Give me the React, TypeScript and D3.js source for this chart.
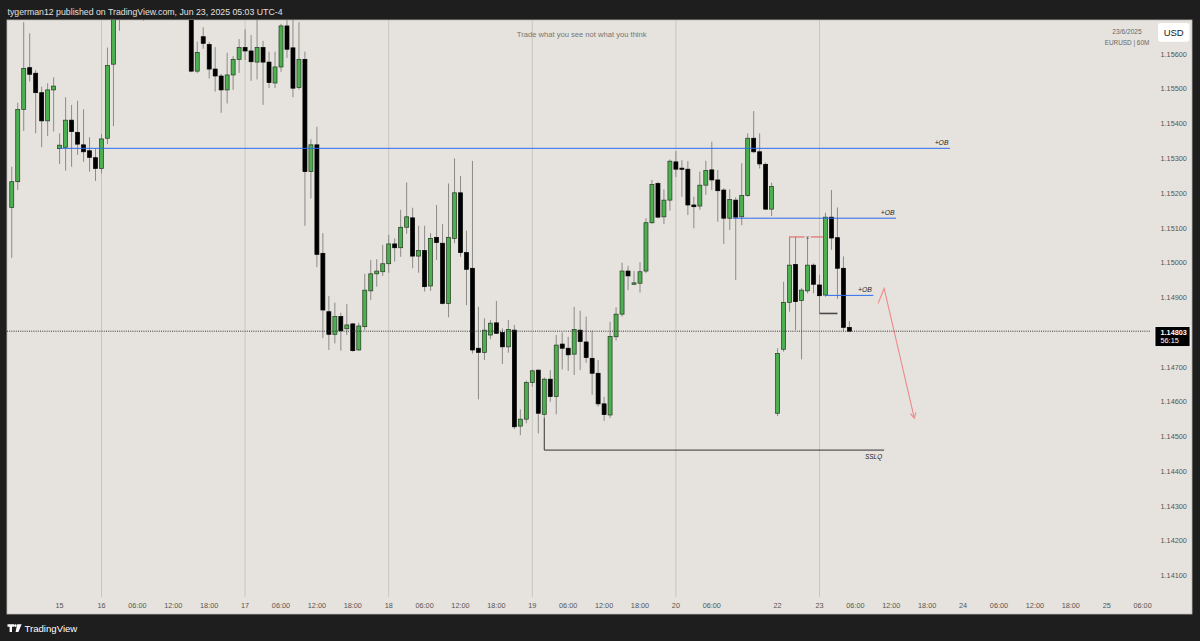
import React from "react";
import * as d3 from "d3";

// ---------- DATA ----------
const startTime = "2025-06-13T09:00"; // first visible hourly bar (UTC-4)

const opens = [
  1.15159, 1.15233, 1.15441, 1.15561, 1.15545, 1.15489, 1.15408, 1.15497, 1.15328, 1.15332,
  1.15410, 1.15375, 1.15339, 1.15322, 1.15302, 1.15271, 1.15358, 1.15571, 1.15745, 1.15760,
  1.15790, 1.15770, 1.15740, 1.15760, 1.15810, 1.15850, 1.15820, 1.15840, 1.15800, 1.15780,
  1.15770, 1.15551, 1.15650, 1.15628, 1.15557, 1.15537, 1.15497, 1.15540, 1.15585, 1.15619,
  1.15609, 1.15577, 1.15619, 1.15577, 1.15517, 1.15563, 1.15681, 1.15618, 1.15504, 1.15585,
  1.15262, 1.15339, 1.15027, 1.14859, 1.14794, 1.14845, 1.14810, 1.14824, 1.14749, 1.14816,
  1.14919, 1.14968, 1.14974, 1.14997, 1.15054, 1.15043, 1.15102, 1.15129, 1.15019, 1.15035,
  1.14933, 1.15073, 1.15056, 1.14883, 1.15070, 1.15201, 1.15029, 1.14984, 1.14754, 1.14742,
  1.14792, 1.14827, 1.14799, 1.14758, 1.14806, 1.14530, 1.14550, 1.14655, 1.14691, 1.14564,
  1.14665, 1.14615, 1.14766, 1.14754, 1.14737, 1.14806, 1.14772, 1.14725, 1.14682, 1.14594,
  1.14562, 1.14787, 1.14852, 1.14976, 1.14938, 1.14941, 1.14976, 1.15115, 1.15228, 1.15132,
  1.15180, 1.15290, 1.15272, 1.15269, 1.15166, 1.15163, 1.15223, 1.15267, 1.15238, 1.15209,
  1.15128, 1.15180, 1.15132, 1.15193, 1.15358, 1.15319, 1.15283, 1.15154, 1.14567, 1.14751,
  1.14886, 1.14995, 1.14891, 1.14919, 1.14993, 1.14936, 1.14907, 1.15131, 1.15072, 1.14984,
  1.14814,
];
const highs = [
  1.15276, 1.15460, 1.15692, 1.15660, 1.15554, 1.15506, 1.15516, 1.15533, 1.15372, 1.15476,
  1.15454, 1.15466, 1.15441, 1.15361, 1.15329, 1.15370, 1.15619, 1.15780, 1.15810, 1.15820,
  1.15830, 1.15800, 1.15790, 1.15840, 1.15880, 1.15890, 1.15870, 1.15860, 1.15830, 1.15810,
  1.15790, 1.15636, 1.15677, 1.15635, 1.15620, 1.15543, 1.15604, 1.15594, 1.15643, 1.15671,
  1.15655, 1.15710, 1.15638, 1.15607, 1.15607, 1.15687, 1.15720, 1.15715, 1.15692, 1.15607,
  1.15355, 1.15391, 1.15085, 1.14904, 1.14885, 1.14856, 1.14881, 1.14826, 1.14827, 1.14968,
  1.15008, 1.15010, 1.15051, 1.15080, 1.15070, 1.15152, 1.15231, 1.15158, 1.15106, 1.15106,
  1.15085, 1.15166, 1.15111, 1.15228, 1.15300, 1.15249, 1.15092, 1.15293, 1.14873, 1.14840,
  1.14835, 1.14890, 1.14811, 1.14835, 1.14821, 1.14578, 1.14661, 1.14693, 1.14693, 1.14670,
  1.14691, 1.14792, 1.14799, 1.14787, 1.14873, 1.14862, 1.14845, 1.14804, 1.14720, 1.14614,
  1.14830, 1.14872, 1.15000, 1.14991, 1.14976, 1.15001, 1.15128, 1.15238, 1.15233, 1.15211,
  1.15297, 1.15321, 1.15295, 1.15292, 1.15190, 1.15262, 1.15293, 1.15348, 1.15267, 1.15214,
  1.15211, 1.15188, 1.15286, 1.15372, 1.15436, 1.15372, 1.15288, 1.15230, 1.14754, 1.14945,
  1.15075, 1.15075, 1.14927, 1.15073, 1.14998, 1.14965, 1.15144, 1.15209, 1.15159, 1.15018,
  1.14832,
];
const lows = [
  1.15014, 1.15209, 1.15379, 1.15521, 1.15372, 1.15332, 1.15364, 1.15377, 1.15284, 1.15265,
  1.15276, 1.15310, 1.15290, 1.15262, 1.15235, 1.15257, 1.15341, 1.15393, 1.15667, 1.15740,
  1.15730, 1.15715, 1.15696, 1.15745, 1.15790, 1.15800, 1.15790, 1.15770, 1.15750, 1.15740,
  1.15548, 1.15545, 1.15615, 1.15530, 1.15492, 1.15431, 1.15458, 1.15497, 1.15546, 1.15583,
  1.15523, 1.15527, 1.15454, 1.15502, 1.15502, 1.15549, 1.15589, 1.15476, 1.15498, 1.15106,
  1.15185, 1.14987, 1.14783, 1.14749, 1.14768, 1.14747, 1.14792, 1.14744, 1.14747, 1.14806,
  1.14893, 1.14931, 1.14962, 1.14971, 1.15003, 1.15017, 1.15083, 1.14984, 1.14971, 1.14917,
  1.14919, 1.15008, 1.14880, 1.14843, 1.15056, 1.15017, 1.14878, 1.14739, 1.14607, 1.14720,
  1.14780, 1.14795, 1.14709, 1.14741, 1.14521, 1.14504, 1.14538, 1.14643, 1.14509, 1.14553,
  1.14600, 1.14564, 1.14693, 1.14689, 1.14677, 1.14691, 1.14712, 1.14620, 1.14586, 1.14545,
  1.14553, 1.14776, 1.14845, 1.14921, 1.14936, 1.14914, 1.14970, 1.15111, 1.15128, 1.15111,
  1.15150, 1.15246, 1.15190, 1.15137, 1.15099, 1.15152, 1.15195, 1.15209, 1.15118, 1.15054,
  1.15094, 1.14950, 1.15108, 1.15190, 1.15315, 1.15271, 1.15152, 1.15134, 1.14559, 1.14744,
  1.14859, 1.14806, 1.14722, 1.14912, 1.14912, 1.14854, 1.14902, 1.15037, 1.14896, 1.14804,
  1.14800,
];
const closes = [
  1.15233, 1.15441, 1.15559, 1.15542, 1.15489, 1.15408, 1.15497, 1.15508, 1.15338, 1.15410,
  1.15377, 1.15341, 1.15319, 1.15303, 1.15271, 1.15356, 1.15567, 1.15745, 1.15760, 1.15790,
  1.15770, 1.15740, 1.15760, 1.15810, 1.15850, 1.15820, 1.15840, 1.15800, 1.15780, 1.15770,
  1.15551, 1.15605, 1.15631, 1.15557, 1.15537, 1.15497, 1.15540, 1.15585, 1.15619, 1.15609,
  1.15578, 1.15619, 1.15577, 1.15518, 1.15563, 1.15681, 1.15614, 1.15502, 1.15585, 1.15262,
  1.15339, 1.15024, 1.14864, 1.14794, 1.14845, 1.14804, 1.14821, 1.14747, 1.14818, 1.14921,
  1.14968, 1.14976, 1.14997, 1.15054, 1.15043, 1.15102, 1.15132, 1.15019, 1.15035, 1.14931,
  1.15070, 1.15058, 1.14883, 1.15073, 1.15201, 1.15029, 1.14981, 1.14749, 1.14742, 1.14806,
  1.14826, 1.14797, 1.14758, 1.14808, 1.14528, 1.14550, 1.14655, 1.14689, 1.14567, 1.14665,
  1.14615, 1.14763, 1.14754, 1.14735, 1.14808, 1.14773, 1.14727, 1.14682, 1.14594, 1.14563,
  1.14788, 1.14852, 1.14976, 1.14962, 1.14942, 1.14974, 1.15115, 1.15225, 1.15131, 1.15180,
  1.15292, 1.15269, 1.15270, 1.15166, 1.15161, 1.15223, 1.15265, 1.15238, 1.15207, 1.15128,
  1.15182, 1.15131, 1.15193, 1.15358, 1.15319, 1.15284, 1.15154, 1.15219, 1.14739, 1.14886,
  1.14993, 1.14888, 1.14921, 1.14993, 1.14938, 1.14905, 1.15131, 1.15071, 1.14984, 1.14814,
  1.14803,
];

const priceTicks = [1.141, 1.142, 1.143, 1.144, 1.145, 1.146, 1.147, 1.149, 1.15, 1.151, 1.152, 1.153, 1.154, 1.155, 1.156];

const tickTimes = [
  "2025-06-15T17:00", "2025-06-16T00:00", "2025-06-16T06:00", "2025-06-16T12:00", "2025-06-16T18:00",
  "2025-06-17T00:00", "2025-06-17T06:00", "2025-06-17T12:00", "2025-06-17T18:00",
  "2025-06-18T00:00", "2025-06-18T06:00", "2025-06-18T12:00", "2025-06-18T18:00",
  "2025-06-19T00:00", "2025-06-19T06:00", "2025-06-19T12:00", "2025-06-19T18:00",
  "2025-06-20T00:00", "2025-06-20T06:00", "2025-06-22T17:00",
  "2025-06-23T00:00", "2025-06-23T06:00", "2025-06-23T12:00", "2025-06-23T18:00",
  "2025-06-24T00:00", "2025-06-24T06:00", "2025-06-24T12:00", "2025-06-24T18:00",
  "2025-06-25T00:00", "2025-06-25T06:00",
];
const tickLabels = [
  "15", "16", "06:00", "12:00", "18:00", "17", "06:00", "12:00", "18:00",
  "18", "06:00", "12:00", "18:00", "19", "06:00", "12:00", "18:00",
  "20", "06:00", "22", "23", "06:00", "12:00", "18:00", "24", "06:00", "12:00", "18:00", "25", "06:00",
];
const dayLineTimes = ["2025-06-16T00:00", "2025-06-17T00:00", "2025-06-18T00:00", "2025-06-19T00:00", "2025-06-20T00:00", "2025-06-23T00:00"];

// Drawings (price levels and anchor times)
const obLevels = [1.15329, 1.15128, 1.14906];
const obStarts = ["2025-06-15T17:00", "2025-06-20T09:30", "2025-06-23T01:00"];
const obEnds = ["2025-06-23T21:48", "2025-06-23T12:48", "2025-06-23T09:00"];
const obLabel = "+OB";
const sslqLevel = 1.14461;
const sslqStart = "2025-06-19T02:00";
const sslqEnd = "2025-06-23T10:48";
const redLevel = 1.15074;
const redStart = "2025-06-22T19:00";
const redEnd = "2025-06-23T00:36";
const redMark = "2025-06-22T22:00";
const greyLevel = 1.14854;
const greyStart = "2025-06-23T00:00";
const greyEnd = "2025-06-23T03:00";
const arrowTimes = ["2025-06-23T09:48", "2025-06-23T10:48", "2025-06-23T15:51"];
const arrowPrices = [1.14883, 1.14926, 1.14553];
const lastPrice = 1.14803;
const countdown = "56:15";

// ---------- TIME HELPERS ----------
const H = 3600000;
const parseT = (s: string) => new Date(s + ":00Z").getTime();
const BASE = parseT("2025-06-13T08:00");
function isOpen(ms: number) {
  const d = new Date(ms);
  const day = d.getUTCDay();
  const h = d.getUTCHours();
  if (day === 6) return false;
  if (day === 5 && h >= 17) return false;
  if (day === 0 && h < 17) return false;
  return true;
}
function barIndex(s: string) {
  const hrs = (parseT(s) - BASE) / H;
  const whole = Math.floor(hrs);
  let idx = 0;
  for (let k = 0; k < whole; k++) if (isOpen(BASE + k * H)) idx++;
  return idx + (hrs - whole);
}

const FONT = "'Liberation Sans', Arial, sans-serif";

export default function App() {
  const x = d3.scaleLinear().domain([16, 136]).range([101.5, 819.5]);
  const y = d3.scaleLinear().domain([1.141, 1.156]).range([575.6, 54.1]);
  const first = barIndex(startTime);
  const candles = opens.map((o, j) => ({ i: first + j, o, h: highs[j], l: lows[j], c: closes[j] }));
  const fmt = d3.format(".5f");

  const plotL = 7, plotT = 20, plotR = 1192, plotB = 614;

  const ap = arrowTimes.map((t, k) => [x(barIndex(t)), y(arrowPrices[k])] as [number, number]);
  const end = ap[ap.length - 1];
  const prev = ap[ap.length - 2];
  const ang = Math.atan2(end[1] - prev[1], end[0] - prev[0]);
  const headLen = 6;
  const h1: [number, number] = [end[0] - headLen * Math.cos(ang - 0.5), end[1] - headLen * Math.sin(ang - 0.5)];
  const h2: [number, number] = [end[0] - headLen * Math.cos(ang + 0.5), end[1] - headLen * Math.sin(ang + 0.5)];
  const line = d3.line();

  const sx0 = x(barIndex(sslqStart));
  const sx1 = x(barIndex(sslqEnd));
  const sslqBarLow = lows[Math.round(barIndex(sslqStart) - first)];

  return (
    <svg width={1200} height={641} style={{ position: "fixed", left: 0, top: 0, display: "block" }} fontFamily={FONT}>
      <defs>
        <clipPath id="plotClip">
          <rect x={plotL} y={plotT} width={1150 - plotL} height={597 - plotT} />
        </clipPath>
      </defs>
      <rect x={0} y={0} width={1200} height={641} fill="#1e1e1e" />
      <rect x={plotL} y={plotT} width={plotR - plotL} height={plotB - plotT} fill="#e6e3de" stroke="#bdbab4" strokeWidth={0.8} />

      {/* header */}
      <text x={7.5} y={14.5} fill="#e0e0e0" fontSize={9.6} textLength={275} lengthAdjust="spacingAndGlyphs">
        tygerman12 published on TradingView.com, Jun 23, 2025 05:03 UTC-4
      </text>

      {/* day grid lines */}
      {dayLineTimes.map((t) => (
        <line key={t} x1={x(barIndex(t))} x2={x(barIndex(t))} y1={plotT} y2={597} stroke="#c9c6c1" strokeWidth={1} />
      ))}

      {/* watermark-ish text */}
      <text x={581.7} y={36.5} fill="#777572" fontSize={7.6} textAnchor="middle">Trade what you see not what you think</text>
      <text x={1127} y={34} fill="#666" fontSize={6.6} textAnchor="middle">23/6/2025</text>
      <text x={1127} y={44.5} fill="#666" fontSize={6.4} textAnchor="middle">EURUSD | 60M</text>

      {/* candles */}
      <g clipPath="url(#plotClip)">
        {candles.map((d) => {
          const cx = x(d.i);
          const up = d.c >= d.o;
          const top = y(Math.max(d.o, d.c));
          const bot = y(Math.min(d.o, d.c));
          return (
            <g key={d.i}>
              <line x1={cx} x2={cx} y1={y(d.h)} y2={y(d.l)} stroke="#8c8a87" strokeWidth={1} />
              <rect
                x={cx - 2}
                y={top}
                width={4}
                height={Math.max(1.2, bot - top)}
                fill={up ? "#4caf50" : "#000"}
                stroke={up ? "#24381f" : "#000"}
                strokeWidth={0.7}
              />
            </g>
          );
        })}

        {/* OB lines */}
        {obLevels.map((lv, k) => {
          const x0 = x(barIndex(obStarts[k]));
          const x1 = x(barIndex(obEnds[k]));
          return (
            <g key={k}>
              <line x1={x0} x2={x1} y1={y(lv)} y2={y(lv)} stroke="#2f6bf0" strokeWidth={1} />
              <text x={x1 - 1.5} y={y(lv) - 3.5} fontSize={6.8} fontStyle="italic" fill="#222" textAnchor="end">{obLabel}</text>
            </g>
          );
        })}

        {/* red level with x */}
        <line x1={x(barIndex(redStart))} x2={x(barIndex(redMark)) - 3} y1={y(redLevel)} y2={y(redLevel)} stroke="#e05a5a" strokeWidth={1} />
        <line x1={x(barIndex(redMark)) + 3} x2={x(barIndex(redEnd))} y1={y(redLevel)} y2={y(redLevel)} stroke="#e05a5a" strokeWidth={1} />
        <text x={x(barIndex(redMark))} y={y(redLevel) + 2} fontSize={6} fill="#444" textAnchor="middle">x</text>

        {/* grey level */}
        <line x1={x(barIndex(greyStart))} x2={x(barIndex(greyEnd))} y1={y(greyLevel)} y2={y(greyLevel)} stroke="#4a4a4a" strokeWidth={1.6} />

        {/* SSLQ */}
        <path d={`M${sx0},${y(sslqBarLow)}V${y(sslqLevel)}H${sx1}`} fill="none" stroke="#333" strokeWidth={1} />
        <text x={sx1 - 2} y={y(sslqLevel) + 9} fontSize={6.4} fontStyle="italic" fill="#222" textAnchor="end">SSLQ</text>

        {/* arrow */}
        <path d={line(ap) || ""} fill="none" stroke="#ef8a8a" strokeWidth={1.1} />
        <path d={line([h1, end, h2]) || ""} fill="none" stroke="#ef8a8a" strokeWidth={1.1} />

        {/* last price dotted line */}
        <line x1={plotL} x2={1155} y1={y(lastPrice)} y2={y(lastPrice)} stroke="#333" strokeWidth={1} strokeDasharray="1 1.2" />
      </g>

      {/* price axis labels */}
      {priceTicks.map((p) => (
        <text key={p} x={1160.5} y={y(p) + 2.6} fontSize={7.3} fill="#555">{fmt(p)}</text>
      ))}

      {/* last price label */}
      <rect x={1155} y={y(lastPrice) - 4.6} width={35} height={20} fill="#000" stroke="#fff" strokeWidth={0.8} />
      <text x={1160.5} y={y(lastPrice) + 3.5} fontSize={7.3} fill="#fff" fontWeight="bold">{fmt(lastPrice)}</text>
      <text x={1160.5} y={y(lastPrice) + 12} fontSize={7.3} fill="#fff">{countdown}</text>

      {/* USD box */}
      <rect x={1158} y={23} width={31.5} height={18.7} rx={3} fill="#fff" />
      <text x={1173.7} y={35.6} fontSize={9.5} fill="#131722" textAnchor="middle">USD</text>

      {/* time axis labels */}
      {tickTimes.map((t, k) => (
        <text key={t} x={x(barIndex(t))} y={607.7} fontSize={7.3} fill="#555" textAnchor="middle">{tickLabels[k]}</text>
      ))}

      {/* footer logo */}
      <g fill="#ffffff">
        <path d="M7.5,624.3 H14 V626.8 H12 V632 H9.6 V626.8 H7.5 Z" />
        <circle cx={15.4} cy={625.6} r={1.3} />
        <path d="M17.2,624.3 H21.6 L18.4,632 H15.6 Z" />
      </g>
      <text x={24.5} y={631.5} fontSize={9.6} fill="#ffffff">TradingView</text>
    </svg>
  );
}
